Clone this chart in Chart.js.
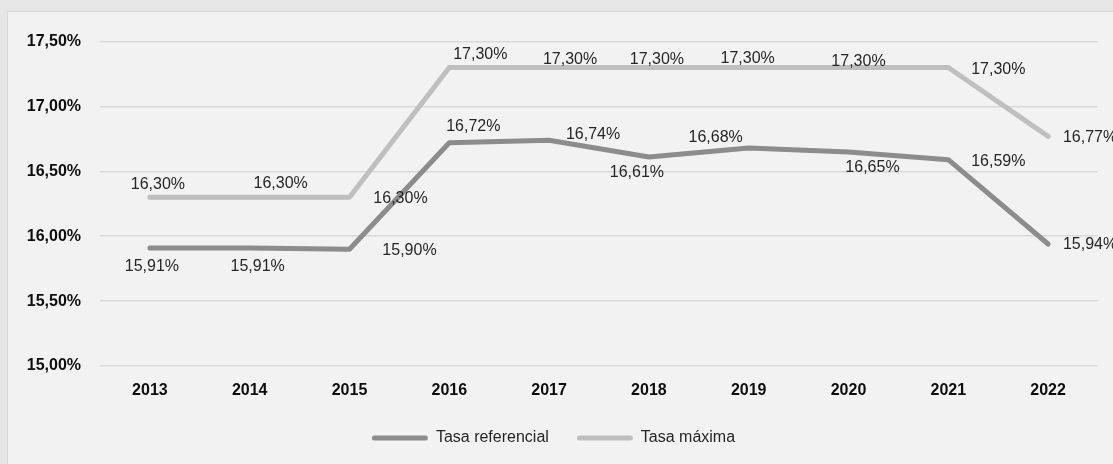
<!DOCTYPE html>
<html>
<head>
<meta charset="utf-8">
<script src="https://cdn.jsdelivr.net/npm/chart.js@4/dist/chart.umd.min.js"></script>
<style>
  html, body { margin: 0; padding: 0; background: #e6e6e6; overflow: hidden; width: 1113px; height: 464px; }
  #panel { position: absolute; left: 7px; top: 11px; width: 1110px; height: 460px; background: #f2f2f2; border: 1px solid #d9d9d9; box-sizing: border-box; }
  #wrap { position: absolute; left: 1px; top: 1px; width: 1105px; height: 452px; }
</style>
</head>
<body>
<div id="panel"><div id="wrap"><canvas id="tasas"></canvas></div></div>
<script>
const years = ['2013', '2014', '2015', '2016', '2017', '2018', '2019', '2020', '2021', '2022'];
const tasaReferencial = [15.91, 15.91, 15.90, 16.72, 16.74, 16.61, 16.68, 16.65, 16.59, 15.94];
const tasaMaxima = [16.30, 16.30, 16.30, 17.30, 17.30, 17.30, 17.30, 17.30, 17.30, 16.77];
const yTicks = { min: 15, max: 17.5, step: 0.5 };

// where each value label sits, relative to its point [dx, dy]
const refLabelShift = [[2, 19], [8, 19], [60, 1], [24, -16], [44, -6], [-12, 16], [-33, -10], [24, 16], [50, 2], [42, 1]];
const maxLabelShift = [[8, -13], [31, -14], [51, 1], [31, -13], [21, -8], [8, -8], [-1, -9], [10, -6], [50, 2], [42, 1]];

const pct = v => v.toFixed(2).replace('.', ',') + '%';

const valueLabels = {
  id: 'valueLabels',
  afterDatasetsDraw(chart) {
    const ctx = chart.ctx;
    ctx.save();
    ctx.font = '16px "Liberation Sans", Arial, sans-serif';
    ctx.fillStyle = '#262626';
    ctx.textAlign = 'center';
    ctx.textBaseline = 'middle';
    chart.data.datasets.forEach((ds, i) => {
      const meta = chart.getDatasetMeta(i);
      meta.data.forEach((pt, j) => {
        const s = ds.labelShift[j];
        ctx.fillText(pct(ds.data[j]), pt.x + s[0], pt.y + s[1]);
      });
    });
    ctx.restore();
  }
};

new Chart(document.getElementById('tasas').getContext('2d'), {
  type: 'line',
  data: {
    labels: years,
    datasets: [
      {
        label: 'Tasa referencial',
        data: tasaReferencial,
        borderColor: '#8c8c8c',
        backgroundColor: '#8c8c8c',
        borderWidth: 5,
        borderCapStyle: 'round',
        borderJoinStyle: 'round',
        pointRadius: 0,
        tension: 0,
        labelShift: refLabelShift
      },
      {
        label: 'Tasa máxima',
        data: tasaMaxima,
        borderColor: '#bfbfbf',
        backgroundColor: '#bfbfbf',
        borderWidth: 5,
        borderCapStyle: 'round',
        borderJoinStyle: 'round',
        pointRadius: 0,
        tension: 0,
        labelShift: maxLabelShift
      }
    ]
  },
  options: {
    responsive: true,
    maintainAspectRatio: false,
    animation: false,
    layout: { padding: { top: 28, right: 16, bottom: 9, left: 0 } },
    scales: {
      x: {
        offset: true,
        grid: { display: false, drawTicks: false },
        border: { display: false },
        ticks: { color: '#0d0d0d', padding: 15, font: { family: '"Liberation Sans", Arial, sans-serif', size: 16, weight: 'bold' } },
        afterFit(scale) { scale.height = 36; }
      },
      y: {
        min: yTicks.min,
        max: yTicks.max,
        grid: { color: '#d9d9d9', lineWidth: 1.5, drawTicks: false },
        border: { display: false },
        ticks: {
          stepSize: yTicks.step,
          color: '#0d0d0d',
          padding: 19,
          font: { family: '"Liberation Sans", Arial, sans-serif', size: 16, weight: 'bold' },
          callback: v => pct(v)
        },
        afterFit(scale) { scale.width = 91; }
      }
    },
    plugins: {
      tooltip: { enabled: false },
      legend: {
        position: 'bottom',
        labels: {
          color: '#262626',
          boxWidth: 56,
          boxHeight: 5,
          padding: 28,
          font: { family: '"Liberation Sans", Arial, sans-serif', size: 16 },
          generateLabels(chart) {
            return chart.data.datasets.map((ds, i) => ({
              text: ds.label,
              fillStyle: ds.borderColor,
              strokeStyle: ds.borderColor,
              lineWidth: 0,
              borderRadius: 2.5,
              fontColor: '#262626',
              datasetIndex: i
            }));
          },
          useBorderRadius: true
        }
      }
    }
  },
  plugins: [valueLabels]
});
</script>
</body>
</html>
